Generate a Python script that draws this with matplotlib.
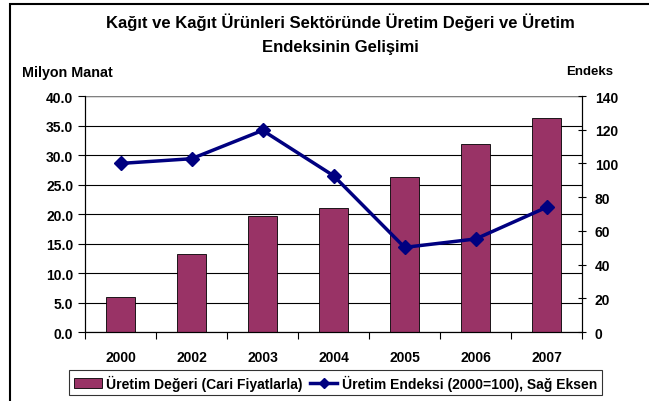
import matplotlib.pyplot as plt
import matplotlib.patches as mpatches
from matplotlib.lines import Line2D
import numpy as np

plt.rcParams['font.family'] = ['Liberation Sans', 'DejaVu Sans']

years = ['2000', '2002', '2003', '2004', '2005', '2006', '2007']
uretim_degeri = [6.0, 13.3, 19.7, 21.0, 26.2, 31.9, 36.3]
uretim_endeksi = [100.0, 102.8, 119.6, 92.7, 50.2, 55.2, 74.0]

fig = plt.figure(figsize=(6.49, 4.02), dpi=100)
ax = fig.add_axes([0.131, 0.1716, 0.766, 0.5871])
ax2 = ax.twinx()

x = np.arange(len(years))
ax.bar(x, uretim_degeri, width=0.4, color='#993366', edgecolor='black', linewidth=0.6, zorder=2)
ax.set_xlim(-0.5, len(years) - 0.5)
ax.set_ylim(0, 40)
ax.set_yticks(np.arange(0, 40.1, 5))
ax.set_yticklabels([f'{v:.1f}' for v in np.arange(0, 40.1, 5)])
ax.yaxis.grid(True, color='black', linewidth=0.8)
ax.set_axisbelow(True)

ax.set_xticks(x)
ax.set_xticklabels(years)
ax.set_xticks(np.arange(-0.5, len(years)), minor=True)
ax.tick_params(axis='x', which='major', length=0, pad=13)
ax.tick_params(axis='x', which='minor', length=5, direction='out', width=0.8)
ax.tick_params(axis='y', length=5, direction='out', width=0.8)
for lbl in ax.get_xticklabels() + ax.get_yticklabels():
    lbl.set_fontweight('bold')
    lbl.set_fontsize(10)

ax2.plot(x, uretim_endeksi, color='#000080', linewidth=2.5, marker='D', markersize=7, zorder=3)
ax2.set_ylim(0, 140)
ax2.set_yticks(np.arange(0, 141, 20))
ax2.tick_params(axis='y', length=6, direction='inout', width=0.8, pad=6)
for lbl in ax2.get_yticklabels():
    lbl.set_fontweight('bold')
    lbl.set_fontsize(10)

for a in (ax, ax2):
    a.spines['top'].set_visible(False)
    a.spines['left'].set_linewidth(0.8)
    a.spines['right'].set_linewidth(0.8)
    a.spines['bottom'].set_linewidth(0.8)
ax.axhline(40, color='#808080', linewidth=1.0, zorder=1)

fig.text(0.524, 0.945, 'Kağıt ve Kağıt Ürünleri Sektöründe Üretim Değeri ve Üretim',
         ha='center', va='center', fontsize=12, fontweight='bold')
fig.text(0.524, 0.883, 'Endeksinin Gelişimi',
         ha='center', va='center', fontsize=12, fontweight='bold')
fig.text(0.034, 0.818, 'Milyon Manat', ha='left', va='center', fontsize=10.3, fontweight='bold')
fig.text(0.873, 0.82, 'Endeks', ha='left', va='center', fontsize=9.5, fontweight='bold')

handles = [mpatches.Patch(facecolor='#993366', edgecolor='black', linewidth=0.6),
           Line2D([0], [0], color='#000080', linewidth=2.5, marker='D', markersize=5)]
labels = ['Üretim Değeri (Cari Fiyatlarla)', 'Üretim Endeksi (2000=100), Sağ Eksen']
leg = fig.legend(handles, labels, loc='center', bbox_to_anchor=(0.517, 0.046), ncol=2,
                 frameon=True, fancybox=False, edgecolor='black', fontsize=10,
                 handlelength=2.0, handletextpad=0.3, columnspacing=0.5, borderpad=0.35)
leg.get_frame().set_linewidth(0.8)
for t in leg.get_texts():
    t.set_fontweight('bold')

# outer chart frame (left and top edges visible)
fig.patches.append(mpatches.Rectangle((10 / 649, -0.1), 1.2, 1.1 - 5 / 402,
                                      transform=fig.transFigure, fill=False,
                                      edgecolor='black', linewidth=1.5))

fig.savefig('out.png', dpi=100)
